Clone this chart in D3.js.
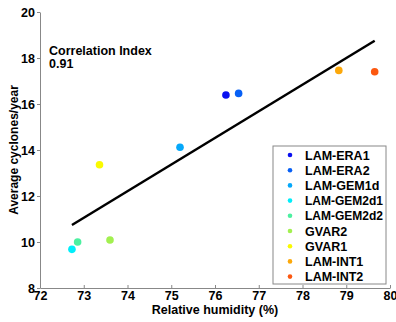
<!DOCTYPE html>
<html>
<head>
<meta charset="utf-8">
<script src="https://cdn.jsdelivr.net/npm/d3@7"></script>
<style>
  body { margin: 0; background: #fff; }
  text { font-family: "Liberation Sans", Arial, sans-serif; font-weight: bold; }
</style>
</head>
<body>
<svg id="chart"></svg>
<script>
const models = ['LAM-ERA1', 'LAM-ERA2', 'LAM-GEM1d', 'LAM-GEM2d1', 'LAM-GEM2d2', 'GVAR2', 'GVAR1', 'LAM-INT1', 'LAM-INT2'];
const humidity = [76.25, 76.54, 75.2, 72.73, 72.86, 73.6, 73.36, 78.83, 79.65];
const cyclones = [16.39, 16.46, 14.12, 9.68, 10.0, 10.09, 13.36, 17.46, 17.40];
const colors = ['#0a10f0', '#0760f5', '#05a8fa', '#00eefa', '#4cf0a0', '#a2f050', '#fafa00', '#fca80a', '#fc5810'];
const fitX = [72.73, 79.65];
const fitY = [10.74, 18.75];
const xTicks = [72, 73, 74, 75, 76, 77, 78, 79, 80];
const yTicks = [8, 10, 12, 14, 16, 18, 20];

const width = 396, height = 322;
const margin = {top: 12, right: 6, bottom: 34, left: 40};

const svg = d3.select('#chart')
  .attr('width', width)
  .attr('height', height);

const x = d3.scaleLinear().domain([72, 80]).range([margin.left, width - margin.right]);
const y = d3.scaleLinear().domain([8, 20]).range([height - margin.bottom, margin.top]);

// axes
const xAxis = svg.append('g')
  .attr('transform', `translate(0,${height - margin.bottom})`)
  .call(d3.axisBottom(x).tickValues(xTicks).tickSize(-3).tickSizeOuter(0).tickPadding(3));
const yAxis = svg.append('g')
  .attr('transform', `translate(${margin.left},0)`)
  .call(d3.axisLeft(y).tickValues(yTicks).tickSize(3).tickSizeOuter(0).tickPadding(2));

[xAxis, yAxis].forEach(a => {
  a.select('.domain').attr('stroke', '#888');
  a.selectAll('.tick line').attr('stroke', '#888');
  a.selectAll('.tick text')
    .attr('fill', '#000')
    .style('font-size', '12.5px')
    .style('font-family', '"Liberation Sans", Arial, sans-serif')
    .style('font-weight', 'bold');
});

// axis labels
svg.append('text')
  .attr('x', (margin.left + width - margin.right) / 2)
  .attr('y', 314)
  .attr('text-anchor', 'middle')
  .style('font-size', '12.5px')
  .text('Relative humidity (%)');

svg.append('text')
  .attr('transform', `translate(18,${(margin.top + height - margin.bottom) / 2}) rotate(-90)`)
  .attr('text-anchor', 'middle')
  .style('font-size', '12px')
  .text('Average cyclones/year');

// correlation note
svg.append('text').attr('x', 49).attr('y', 55).style('font-size', '12.5px').text('Correlation Index');
svg.append('text').attr('x', 49).attr('y', 68).style('font-size', '12.5px').text('0.91');

// fit line
svg.append('line')
  .attr('x1', x(fitX[0])).attr('y1', y(fitY[0]))
  .attr('x2', x(fitX[1])).attr('y2', y(fitY[1]))
  .attr('stroke', '#000')
  .attr('stroke-width', 2.5);

// points
svg.selectAll('circle.pt')
  .data(models)
  .enter()
  .append('circle')
    .attr('class', 'pt')
    .attr('cx', (d, i) => x(humidity[i]))
    .attr('cy', (d, i) => y(cyclones[i]))
    .attr('r', 3.8)
    .attr('fill', (d, i) => colors[i]);

// legend
const legend = svg.append('g').attr('transform', 'translate(273,146)');
legend.append('rect')
  .attr('width', 113).attr('height', 138)
  .attr('fill', '#fff')
  .attr('stroke', '#888');

const items = legend.selectAll('g.item')
  .data(models)
  .enter()
  .append('g')
    .attr('class', 'item')
    .attr('transform', (d, i) => `translate(0,${9 + i * 15.2})`);
items.append('circle')
  .attr('cx', 17).attr('r', 2.3)
  .attr('fill', (d, i) => colors[i]);
items.append('text')
  .attr('x', 32).attr('dy', '0.36em')
  .style('font-size', '12.5px')
  .attr('textLength', d => d.length > 9 ? 78 : null)
  .attr('lengthAdjust', 'spacingAndGlyphs')
  .text(d => d);
</script>
</body>
</html>
